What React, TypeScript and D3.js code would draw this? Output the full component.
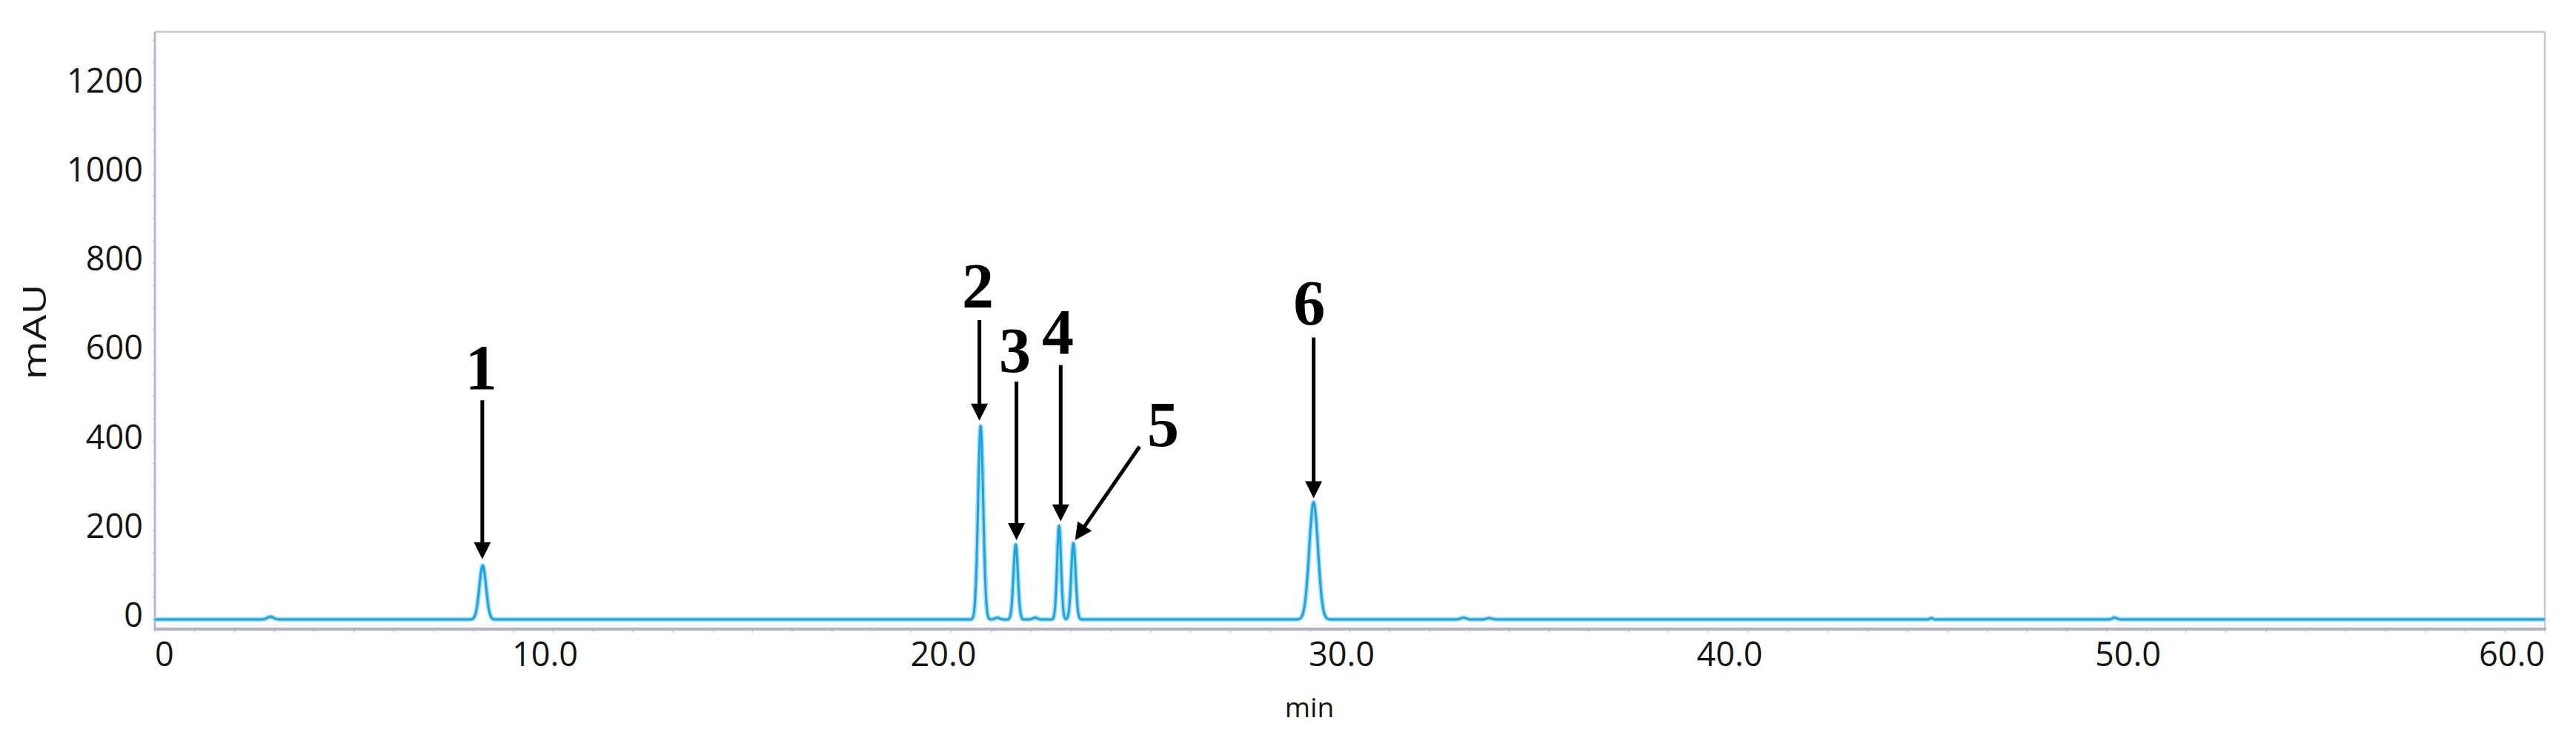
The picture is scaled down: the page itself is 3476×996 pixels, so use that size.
import React from "react";
import * as d3 from "d3";

// ---- Data ----
// Peak table (retention time in min, height in mAU, gaussian sigma in min)
const peakTimes = [2.9, 8.23, 20.73, 21.15, 21.61, 22.1, 22.7, 23.06, 29.09, 32.85, 33.5, 44.6, 49.2];
const peakHeights = [6, 121, 434, 4, 168, 4, 210, 171, 263, 4, 3, 3, 4];
const peakSigmas = [0.08, 0.085, 0.065, 0.06, 0.055, 0.06, 0.05, 0.055, 0.11, 0.07, 0.07, 0.04, 0.06];

// Annotation labels (position in data units: min, mAU)
const annLabels = ["1", "2", "3", "4", "5", "6"];
const annLabelTime = [8.19, 20.66, 21.59, 22.67, 25.31, 28.98];
const annLabelMAU = [517, 700, 556, 597, 389, 662];
const arrowFromTime = [8.22, 20.7, 21.63, 22.74, 24.72, 29.09];
const arrowFromMAU = [492, 672, 534, 571, 388, 633];
const arrowToTime = [8.22, 20.7, 21.63, 22.74, 23.1, 29.09];
const arrowToMAU = [135, 446, 178, 220, 178, 272];

// Axes
const xTickValues = [0, 10, 20, 30, 40, 50, 60];
const xTickLabels = ["0", "10.0", "20.0", "30.0", "40.0", "50.0", "60.0"];
const yTickValues = [0, 200, 400, 600, 800, 1000, 1200];
const xDomain = [0, 60];
const yDomain = [-21.6, 1319];

const W = 3476;
const H = 996;
const left = 209;
const right = 3434;
const top = 43;
const bottom = 849;

export default function App() {
  const x = d3.scaleLinear().domain(xDomain).range([left, right]);
  const y = d3.scaleLinear().domain(yDomain).range([bottom, top]);

  const times = d3.range(0, 60.0001, 0.01);
  const trace: [number, number][] = times.map((t) => {
    let v = 0;
    for (let i = 0; i < peakTimes.length; i++) {
      const d = (t - peakTimes[i]) / peakSigmas[i];
      if (Math.abs(d) < 8) v += peakHeights[i] * Math.exp(-0.5 * d * d);
    }
    return [t, v];
  });
  const line = d3
    .line<[number, number]>()
    .x((d) => x(d[0]))
    .y((d) => y(d[1]));
  const pathD = line(trace) || "";

  const xMinor = d3.range(0, 61, 1);
  const yMinor = d3.range(0, 1301, 50);

  const tickFont = "'Open Sans', 'DejaVu Sans', sans-serif";
  const axisColor = "#b3b6c8";

  const arrows = annLabels.map((_, i) => {
    const x1 = x(arrowFromTime[i]);
    const y1 = y(arrowFromMAU[i]);
    const x2 = x(arrowToTime[i]);
    const y2 = y(arrowToMAU[i]);
    const dx = x2 - x1;
    const dy = y2 - y1;
    const len = Math.sqrt(dx * dx + dy * dy);
    const ux = dx / len;
    const uy = dy / len;
    const headL = 23;
    const headW = 11.5;
    const bx = x2 - ux * headL;
    const by = y2 - uy * headL;
    const px = -uy;
    const py = ux;
    const tri = `M${x2},${y2}L${bx + px * headW},${by + py * headW}L${bx - px * headW},${by - py * headW}Z`;
    return { x1, y1, bx: x2 - ux * (headL - 4), by: y2 - uy * (headL - 4), tri };
  });

  return (
    <div style={{ position: "absolute", left: 0, top: 0, width: W, height: H, background: "#fff" }}>
      <svg width={W} height={H} viewBox={`0 0 ${W} ${H}`} style={{ display: "block" }}>
        <rect x={0} y={0} width={W} height={H} fill="#ffffff" />
        {/* frame */}
        <line x1={left} x2={right} y1={top} y2={top} stroke="#c4c7d5" strokeWidth={2.5} />
        <line x1={right} x2={right} y1={top} y2={bottom} stroke="#c4c7d5" strokeWidth={2.5} />
        <line x1={left} x2={left} y1={top} y2={bottom} stroke={axisColor} strokeWidth={3} />
        <line x1={left - 1.5} x2={right + 1.5} y1={bottom} y2={bottom} stroke="#aeb1c3" strokeWidth={4} />
        {/* minor ticks */}
        {xMinor.map((t) => (
          <line key={"xm" + t} x1={x(t)} x2={x(t)} y1={bottom + 2} y2={bottom + 5} stroke="#d0d2dc" strokeWidth={1.5} />
        ))}
        {yMinor.map((v) => (
          <line key={"ym" + v} x1={left - 4} x2={left - 1} y1={y(v)} y2={y(v)} stroke="#d0d2dc" strokeWidth={1.5} />
        ))}
        {/* y tick labels */}
        {yTickValues.map((v) => (
          <text
            key={"yl" + v}
            x={left - 16}
            y={y(v) - 6}
            dy="0.36em"
            textAnchor="end"
            fontFamily={tickFont}
            fontSize={45}
            fill="#141414"
          >
            {v}
          </text>
        ))}
        {/* x tick labels */}
        {xTickValues.map((v, i) => {
          const anchor = i === 0 ? "start" : i === xTickValues.length - 1 ? "end" : "middle";
          const dx = i === 0 ? 0 : i === xTickValues.length - 1 ? 0 : v >= 40 ? -25 : -11;
          return (
            <text
              key={"xl" + v}
              x={x(v) + dx}
              y={899}
              textAnchor={anchor}
              fontFamily={tickFont}
              fontSize={45}
              fill="#141414"
            >
              {xTickLabels[i]}
            </text>
          );
        })}
        {/* axis titles */}
        <text
          transform={`translate(62,448) rotate(-90)`}
          textAnchor="middle"
          fontFamily={tickFont}
          fontSize={44}
          textLength={129}
          lengthAdjust="spacingAndGlyphs"
          fill="#141414"
        >
          mAU
        </text>
        <text x={1767} y={968} textAnchor="middle" fontFamily={tickFont} fontSize={37} fill="#141414">
          min
        </text>
        {/* trace */}
        <path d={pathD} fill="none" stroke="#a9ddf5" strokeWidth={6.5} strokeLinejoin="round" />
        <path d={pathD} fill="none" stroke="#1aa5e1" strokeWidth={3} strokeLinejoin="round" />
        {/* arrows */}
        {arrows.map((a, i) => (
          <g key={"ar" + i}>
            <line x1={a.x1} y1={a.y1} x2={a.bx} y2={a.by} stroke="#000" strokeWidth={5} />
            <path d={a.tri} fill="#000" />
          </g>
        ))}
        {/* labels */}
        {annLabels.map((l, i) => (
          <text
            key={"lb" + i}
            x={x(annLabelTime[i])}
            y={y(annLabelMAU[i])}
            textAnchor="middle"
            fontFamily="'Liberation Serif', 'Times New Roman', serif"
            fontWeight="bold"
            fontSize={86}
            fill="#000"
          >
            {l}
          </text>
        ))}
      </svg>
    </div>
  );
}
